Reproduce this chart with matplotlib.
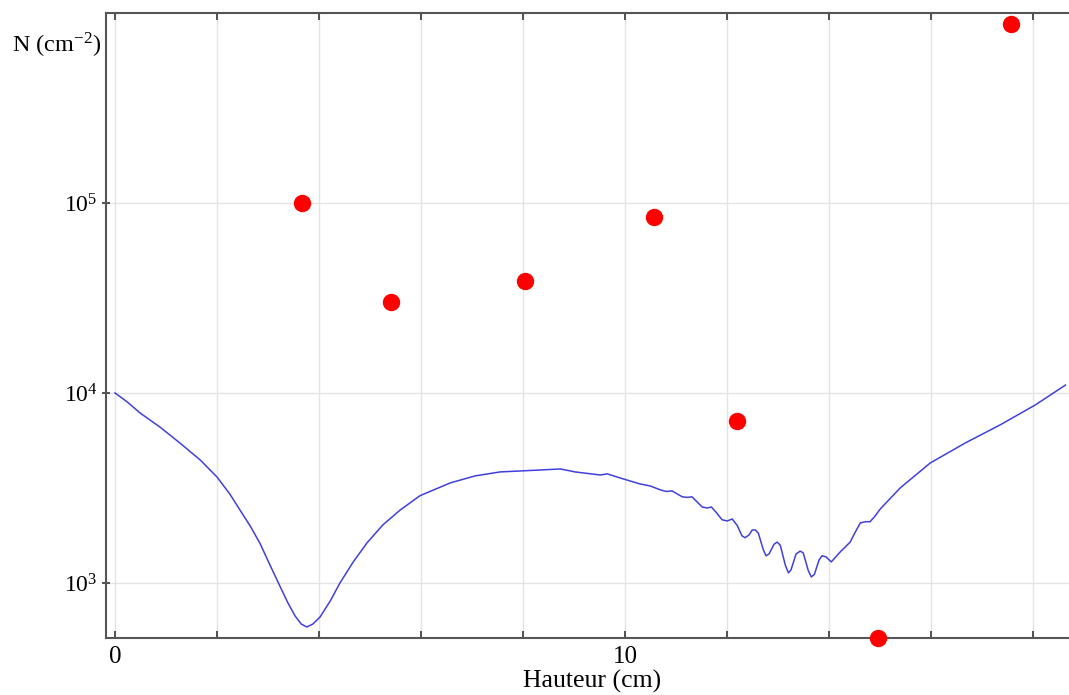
import numpy as np
import matplotlib
matplotlib.use("Agg")
import matplotlib.pyplot as plt
from matplotlib.ticker import FixedLocator, NullLocator, FixedFormatter

plt.rcParams['font.family'] = ['Liberation Serif', 'DejaVu Serif']
plt.rcParams['mathtext.fontset'] = 'stix'

# computed curve N(h)
curve_h = [0.0, 0.24, 0.49, 0.88, 1.27, 1.67, 2.0, 2.25, 2.45, 2.65, 2.84, 3.04,
           3.24, 3.39, 3.53, 3.65, 3.76, 3.88, 4.02, 4.22, 4.41, 4.67, 4.94, 5.25,
           5.59, 5.98, 6.57, 7.06, 7.55, 8.33, 8.73, 9.02, 9.51, 9.65, 9.90,
           10.29, 10.49, 10.69, 10.80, 10.92, 11.02, 11.12, 11.22, 11.31, 11.41,
           11.51, 11.61, 11.69, 11.78, 11.90, 12.0, 12.1, 12.2, 12.29, 12.35,
           12.43, 12.49, 12.55, 12.61, 12.71, 12.76, 12.82, 12.92, 12.98, 13.04,
           13.14, 13.20, 13.25, 13.35, 13.43, 13.49, 13.59, 13.65, 13.71, 13.80,
           13.86, 13.94, 14.04, 14.22, 14.41, 14.51, 14.61, 14.71, 14.80, 14.90,
           15.0, 15.39, 15.98, 16.67, 17.35, 18.04, 18.63]
curve_n = [10000, 8970, 7850, 6620, 5460, 4440, 3610, 2940, 2420, 1995, 1620, 1240,
           953, 785, 670, 608, 586, 608, 662, 804, 1000, 1290, 1625, 2020,
           2420, 2880, 3360, 3660, 3840, 3930, 3980, 3840, 3700, 3750, 3570,
           3320, 3240, 3090, 3030, 3050, 2940, 2840, 2820, 2840, 2670,
           2510, 2480, 2510, 2360, 2150, 2120, 2170, 2000, 1770, 1730,
           1790, 1900, 1900, 1830, 1490, 1390, 1420, 1600, 1640, 1580,
           1240, 1130, 1170, 1420, 1470, 1440, 1160, 1075, 1110, 1320,
           1390, 1370, 1290, 1460, 1640, 1850, 2070, 2100, 2100, 2250,
           2450, 3160, 4280, 5460, 6790, 8650, 11000]

# measured points
mes_h = [3.67, 5.41, 8.04, 10.57, 12.2, 14.96, 17.57]
mes_n = [1.0e5, 3.0e4, 3.9e4, 8.4e4, 7.1e3, 515, 8.75e5]

fig = plt.figure(figsize=(10.69, 6.95), dpi=100)
ax = fig.add_axes([106/1069, 1 - 638/695, 1 - 106/1069, 625/695])

ax.plot(curve_h, curve_n, color='#4040dc', lw=1.1)
ax.plot(mes_h, mes_n, 'o', color='#ff0000', ms=11.5, clip_on=False, zorder=5)

ax.set_yscale('log')
ax.set_xlim(-0.176, 18.7)
ax.set_ylim(513, 1e6)

ax.xaxis.set_major_locator(FixedLocator(np.arange(0, 19, 2)))
ax.xaxis.set_major_formatter(FixedFormatter(['0', '', '', '', '', '10', '', '', '', '']))
ax.yaxis.set_major_locator(FixedLocator([1e3, 1e4, 1e5]))
ax.yaxis.set_major_formatter(FixedFormatter([r'$\mathregular{10^3}$', r'$\mathregular{10^4}$', r'$\mathregular{10^5}$']))
ax.yaxis.set_minor_locator(NullLocator())

ax.tick_params(axis='x', direction='in', length=5, width=1.3, top=True, labelsize=18, pad=6, color='#444444')
ax.tick_params(axis='y', direction='inout', length=6, width=1.3, labelsize=17, pad=3, color='#444444')

ax.grid(True, color='#e4e4e4', lw=1.0)
ax.set_axisbelow(True)

for s in ['left', 'bottom', 'top']:
    ax.spines[s].set_color('#555555')
    ax.spines[s].set_linewidth(1.5)
ax.spines['right'].set_visible(False)

ax.set_xlabel('Hauteur (cm)', fontsize=18.5)
ax.xaxis.set_label_coords(0.505, -0.051)
ax.xaxis.label.set_va('top')
fig.text(0.011, 1 - 45/695, r'N (cm$^{\mathregular{-2}}$)', fontsize=17.5, va='center', ha='left')

fig.savefig('out.png', dpi=100)
